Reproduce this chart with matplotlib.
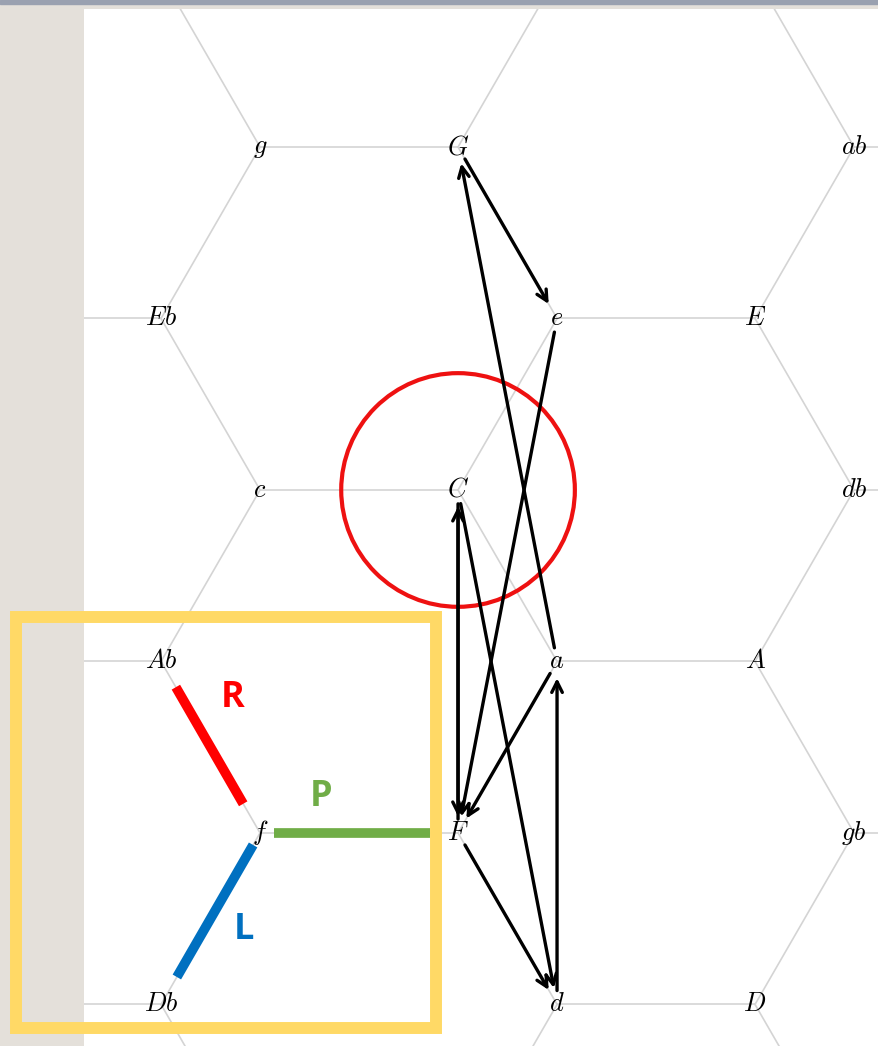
import numpy as np
import matplotlib
matplotlib.use("Agg")
import matplotlib.pyplot as plt
from matplotlib.patches import Rectangle, Circle, FancyArrowPatch

plt.rcParams["mathtext.fontset"] = "cm"

# ── Tonnetz nodes: (column X, row r) in units of the hexagon edge ────────────
names = ["g", "G", "ab", "Eb", "e", "E", "c", "C", "db",
         "Ab", "a", "A", "f", "F", "gb", "Db", "d", "D"]
cols = [-1, 0, 2, -1.5, 0.5, 1.5, -1, 0, 2,
        -1.5, 0.5, 1.5, -1, 0, 2, -1.5, 0.5, 1.5]
rows = [-2, -2, -2, -1, -1, -1, 0, 0, 0,
        1, 1, 1, 2, 2, 2, 3, 3, 3]

# chord path (source -> target)
path_src = ["C", "F", "C", "F", "d", "a", "a", "G", "e"]
path_dst = ["F", "C", "d", "d", "a", "F", "G", "e", "F"]

H = np.sqrt(3) / 2


def xy(X, r):
    return X, -r * H


pos = {n: xy(X, r) for n, X, r in zip(names, cols, rows)}

fig = plt.figure(figsize=(8.79, 10.46), dpi=100)
fig.patch.set_facecolor("#e4e0da")
fig.add_artist(Rectangle((0, 1 - 4 / 1046), 1, 4 / 1046, transform=fig.transFigure,
                         color="#9aa1b0", zorder=0))

ax = fig.add_axes([84 / 879, 0, 795 / 879, 1037 / 1046])
ax.set_facecolor("white")
ax.set_xlim(-1.889, 2.126)
ax.set_ylim(-2.808, 2.429)
ax.axis("off")
ax.add_patch(Rectangle((0, 0), 1, 1, transform=ax.transAxes, color="white", zorder=0))

# ── honeycomb grid ────────────────────────────────────────────────────────────
for r in range(-5, 6):
    if r % 2 == 0:
        verts = [x for x in range(-6, 7) if x % 3 in (0, 2)]
    else:
        verts = [3 * k + d for k in range(-3, 3) for d in (0.5, 1.5)]
    for X in verts:
        if r % 2 == 0:
            left = (X % 3 == 2)
        else:
            left = ((X - 0.5) % 3 == 0)
        down = X - 0.5 if left else X + 0.5
        x0, y0 = xy(X, r)
        if left:
            x1, y1 = xy(X + 1, r)
            ax.plot([x0, x1], [y0, y1], color="#d4d4d4", lw=1.2, zorder=1)
        x1, y1 = xy(down, r + 1)
        ax.plot([x0, x1], [y0, y1], color="#d4d4d4", lw=1.2, zorder=1)

# ── red circle round C ───────────────────────────────────────────────────────
ax.add_patch(Circle(pos["C"], 0.59, fill=False, ec="#ee1111", lw=3, zorder=2))

# ── arrows ────────────────────────────────────────────────────────────────────
for s, t in zip(path_src, path_dst):
    ax.add_patch(FancyArrowPatch(pos[s], pos[t], arrowstyle="->", mutation_scale=19,
                                 lw=2.4, color="black", shrinkA=10, shrinkB=12,
                                 zorder=3))

# ── node labels ───────────────────────────────────────────────────────────────
for n in names:
    x, y = pos[n]
    ax.text(x, y, f"${n}$", ha="center", va="center", fontsize=19, zorder=4)

# ── R / P / L legend round f ─────────────────────────────────────────────────
def seg(a, b, t0, t1):
    (xa, ya), (xb, yb) = pos[a], pos[b]
    return ([xa + (xb - xa) * t0, xa + (xb - xa) * t1],
            [ya + (yb - ya) * t0, ya + (yb - ya) * t1])


for tgt, col, t0, t1 in [("Ab", "#ff0000", 0.17, 0.85),
                         ("F", "#70ad47", 0.07, 0.86),
                         ("Db", "#0070c0", 0.07, 0.84)]:
    xs, ys = seg("f", tgt, t0, t1)
    ax.plot(xs, ys, color=col, lw=7, solid_capstyle="butt", zorder=3)

fx, fy = pos["f"]
for lab, col, dx, dy in [("R", "#ff0000", -0.136, 0.682),
                         ("P", "#70ad47", 0.308, 0.182),
                         ("L", "#0070c0", -0.08, -0.489)]:
    ax.text(fx + dx, fy + dy, lab, color=col, fontsize=26, fontweight="bold",
            family="Open Sans", ha="center", va="center", zorder=4)

# yellow frame (spills over the page margin)
ax.add_patch(Rectangle((-2.232, -2.717), 2.121, 2.073, fill=False, ec="#ffd966",
                       lw=8.6, clip_on=False, zorder=5))

plt.savefig("out.png", dpi=100, facecolor=fig.get_facecolor())
plt.close()
